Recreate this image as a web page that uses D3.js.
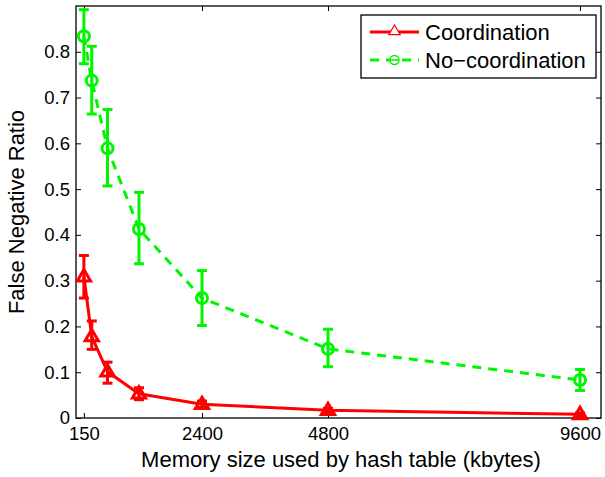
<!DOCTYPE html>
<html>
<head>
<meta charset="utf-8">
<script src="https://cdn.jsdelivr.net/npm/d3@7/dist/d3.min.js"></script>
<style>
  html, body { margin: 0; padding: 0; background: #fff; }
  svg { display: block; font-family: "Liberation Sans", Arial, Helvetica, sans-serif; }
</style>
</head>
<body>
<svg id="chart" width="605" height="477"></svg>
<script>
// Memory sizes (kbytes) of the hash table
const memorySizes = [150, 300, 600, 1200, 2400, 4800, 9600];

// False negative ratio with coordination: mean, lower and upper error bounds
const coordMean  = [0.309, 0.178, 0.101, 0.053, 0.030, 0.017, 0.008];
const coordLow   = [0.262, 0.150, 0.076, 0.040, 0.023, 0.012, 0.005];
const coordHigh  = [0.355, 0.212, 0.122, 0.066, 0.037, 0.021, 0.011];

// False negative ratio without coordination
const nocoordMean = [0.834, 0.737, 0.589, 0.413, 0.262, 0.151, 0.083];
const nocoordLow  = [0.774, 0.664, 0.507, 0.337, 0.202, 0.112, 0.060];
const nocoordHigh = [0.892, 0.812, 0.674, 0.493, 0.322, 0.194, 0.106];

const xTicks = [150, 2400, 4800, 9600];
const yTicks = [0, 0.1, 0.2, 0.3, 0.4, 0.5, 0.6, 0.7, 0.8];
const seriesNames = ["Coordination", "No\u2212coordination"];

const svg = d3.select("#chart");
const plot = { left: 76, right: 601, top: 6, bottom: 418 };

const x = d3.scaleLinear().domain([0, 10000]).range([plot.left, plot.right]);
const y = d3.scaleLinear().domain([0, 0.9]).range([plot.bottom, plot.top]);

const RED = "#ff0000";
const GREEN = "#00f500";
const TICK_FONT = 18.5;
const LABEL_FONT = 22;

// Axes with inward ticks, MATLAB-style box
const tickLen = 5;
svg.append("g")
  .attr("transform", `translate(0,${plot.bottom})`)
  .call(d3.axisBottom(x).tickValues(xTicks).tickSizeInner(-tickLen).tickSizeOuter(0).tickPadding(9).tickFormat(d3.format("d")))
  .call(g => g.select(".domain").remove())
  .call(g => g.selectAll("line").attr("stroke", "#000"))
  .call(g => g.selectAll("text").attr("font-size", TICK_FONT).attr("fill", "#000"));

svg.append("g")
  .attr("transform", `translate(${plot.left},0)`)
  .call(d3.axisLeft(y).tickValues(yTicks).tickSizeInner(-tickLen).tickSizeOuter(0).tickPadding(6).tickFormat(d => d === 0 ? "0" : d3.format(".1f")(d)))
  .call(g => g.select(".domain").remove())
  .call(g => g.selectAll("line").attr("stroke", "#000"))
  .call(g => g.selectAll("text").attr("font-size", TICK_FONT).attr("fill", "#000"));

// Mirror ticks on top and right
svg.append("g")
  .attr("transform", `translate(0,${plot.top})`)
  .call(d3.axisTop(x).tickValues(xTicks).tickSizeInner(-tickLen).tickSizeOuter(0).tickFormat(""))
  .call(g => g.select(".domain").remove());
svg.append("g")
  .attr("transform", `translate(${plot.right},0)`)
  .call(d3.axisRight(y).tickValues(yTicks).tickSizeInner(-tickLen).tickSizeOuter(0).tickFormat(""))
  .call(g => g.select(".domain").remove());

svg.append("rect")
  .attr("x", plot.left).attr("y", plot.top)
  .attr("width", plot.right - plot.left).attr("height", plot.bottom - plot.top)
  .attr("fill", "none").attr("stroke", "#000").attr("stroke-width", 1.3);

// Axis titles
svg.append("text")
  .attr("x", 341).attr("y", 467)
  .attr("text-anchor", "middle").attr("font-size", LABEL_FONT)
  .text("Memory size used by hash table (kbytes)");
svg.append("text")
  .attr("transform", `translate(24,${(plot.top + plot.bottom) / 2}) rotate(-90)`)
  .attr("text-anchor", "middle").attr("font-size", LABEL_FONT)
  .text("False Negative Ratio");

const triPath = s => `M0,${-s}L${s * 0.95},${s * 0.62}L${-s * 0.95},${s * 0.62}Z`;

function drawSeries(mean, low, high, color, dashed, marker) {
  const pts = memorySizes.map((m, i) => ({ m, v: mean[i], lo: low[i], hi: high[i] }));
  const g = svg.append("g");
  g.append("path")
    .datum(pts)
    .attr("fill", "none").attr("stroke", color).attr("stroke-width", 3)
    .attr("stroke-dasharray", dashed ? "9,7" : null)
    .attr("d", d3.line().x(d => x(d.m)).y(d => y(d.v)));

  const cap = 5;
  const eb = g.selectAll(".eb").data(pts).join("g")
    .attr("stroke", color).attr("stroke-width", 3).attr("fill", "none");
  eb.append("line").attr("x1", d => x(d.m)).attr("x2", d => x(d.m)).attr("y1", d => y(d.lo)).attr("y2", d => y(d.hi));
  eb.append("line").attr("x1", d => x(d.m) - cap).attr("x2", d => x(d.m) + cap).attr("y1", d => y(d.lo)).attr("y2", d => y(d.lo));
  eb.append("line").attr("x1", d => x(d.m) - cap).attr("x2", d => x(d.m) + cap).attr("y1", d => y(d.hi)).attr("y2", d => y(d.hi));

  if (marker === "tri") {
    g.selectAll(".mk").data(pts).join("path")
      .attr("transform", d => `translate(${x(d.m)},${y(d.v)})`)
      .attr("d", triPath(7))
      .attr("fill", "none").attr("stroke", color).attr("stroke-width", 3).attr("stroke-linejoin", "miter");
  } else {
    g.selectAll(".mk").data(pts).join("circle")
      .attr("cx", d => x(d.m)).attr("cy", d => y(d.v)).attr("r", 5.5)
      .attr("fill", "none").attr("stroke", color).attr("stroke-width", 3);
  }
}

drawSeries(nocoordMean, nocoordLow, nocoordHigh, GREEN, true, "circle");
drawSeries(coordMean, coordLow, coordHigh, RED, false, "tri");

// Legend
const lg = svg.append("g");
lg.append("rect")
  .attr("x", 361).attr("y", 15).attr("width", 235).attr("height", 63)
  .attr("fill", "#fff").attr("stroke", "#000").attr("stroke-width", 1.3);
const rows = [
  { name: seriesNames[0], color: RED, dashed: false, marker: "tri", yy: 32 },
  { name: seriesNames[1], color: GREEN, dashed: true, marker: "circle", yy: 60 }
];
rows.forEach(r => {
  lg.append("line")
    .attr("x1", 370).attr("x2", 419).attr("y1", r.yy).attr("y2", r.yy)
    .attr("stroke", r.color).attr("stroke-width", 3)
    .attr("stroke-dasharray", r.dashed ? "9,7" : null);
  if (r.marker === "tri") {
    lg.append("path").attr("transform", `translate(394.5,${r.yy - 1})`)
      .attr("d", triPath(6)).attr("fill", "#fff").attr("stroke", r.color).attr("stroke-width", 1.2);
  } else {
    lg.append("circle").attr("cx", 394.5).attr("cy", r.yy).attr("r", 4.5)
      .attr("fill", "#fff").attr("stroke", r.color).attr("stroke-width", 1.5);
    lg.append("line").attr("x1", 390.5).attr("x2", 398.5).attr("y1", r.yy).attr("y2", r.yy)
      .attr("stroke", r.color).attr("stroke-width", 1.5);
  }
  lg.append("text").attr("x", 425).attr("y", r.yy + 8).attr("font-size", LABEL_FONT).text(r.name);
});
</script>
</body>
</html>
